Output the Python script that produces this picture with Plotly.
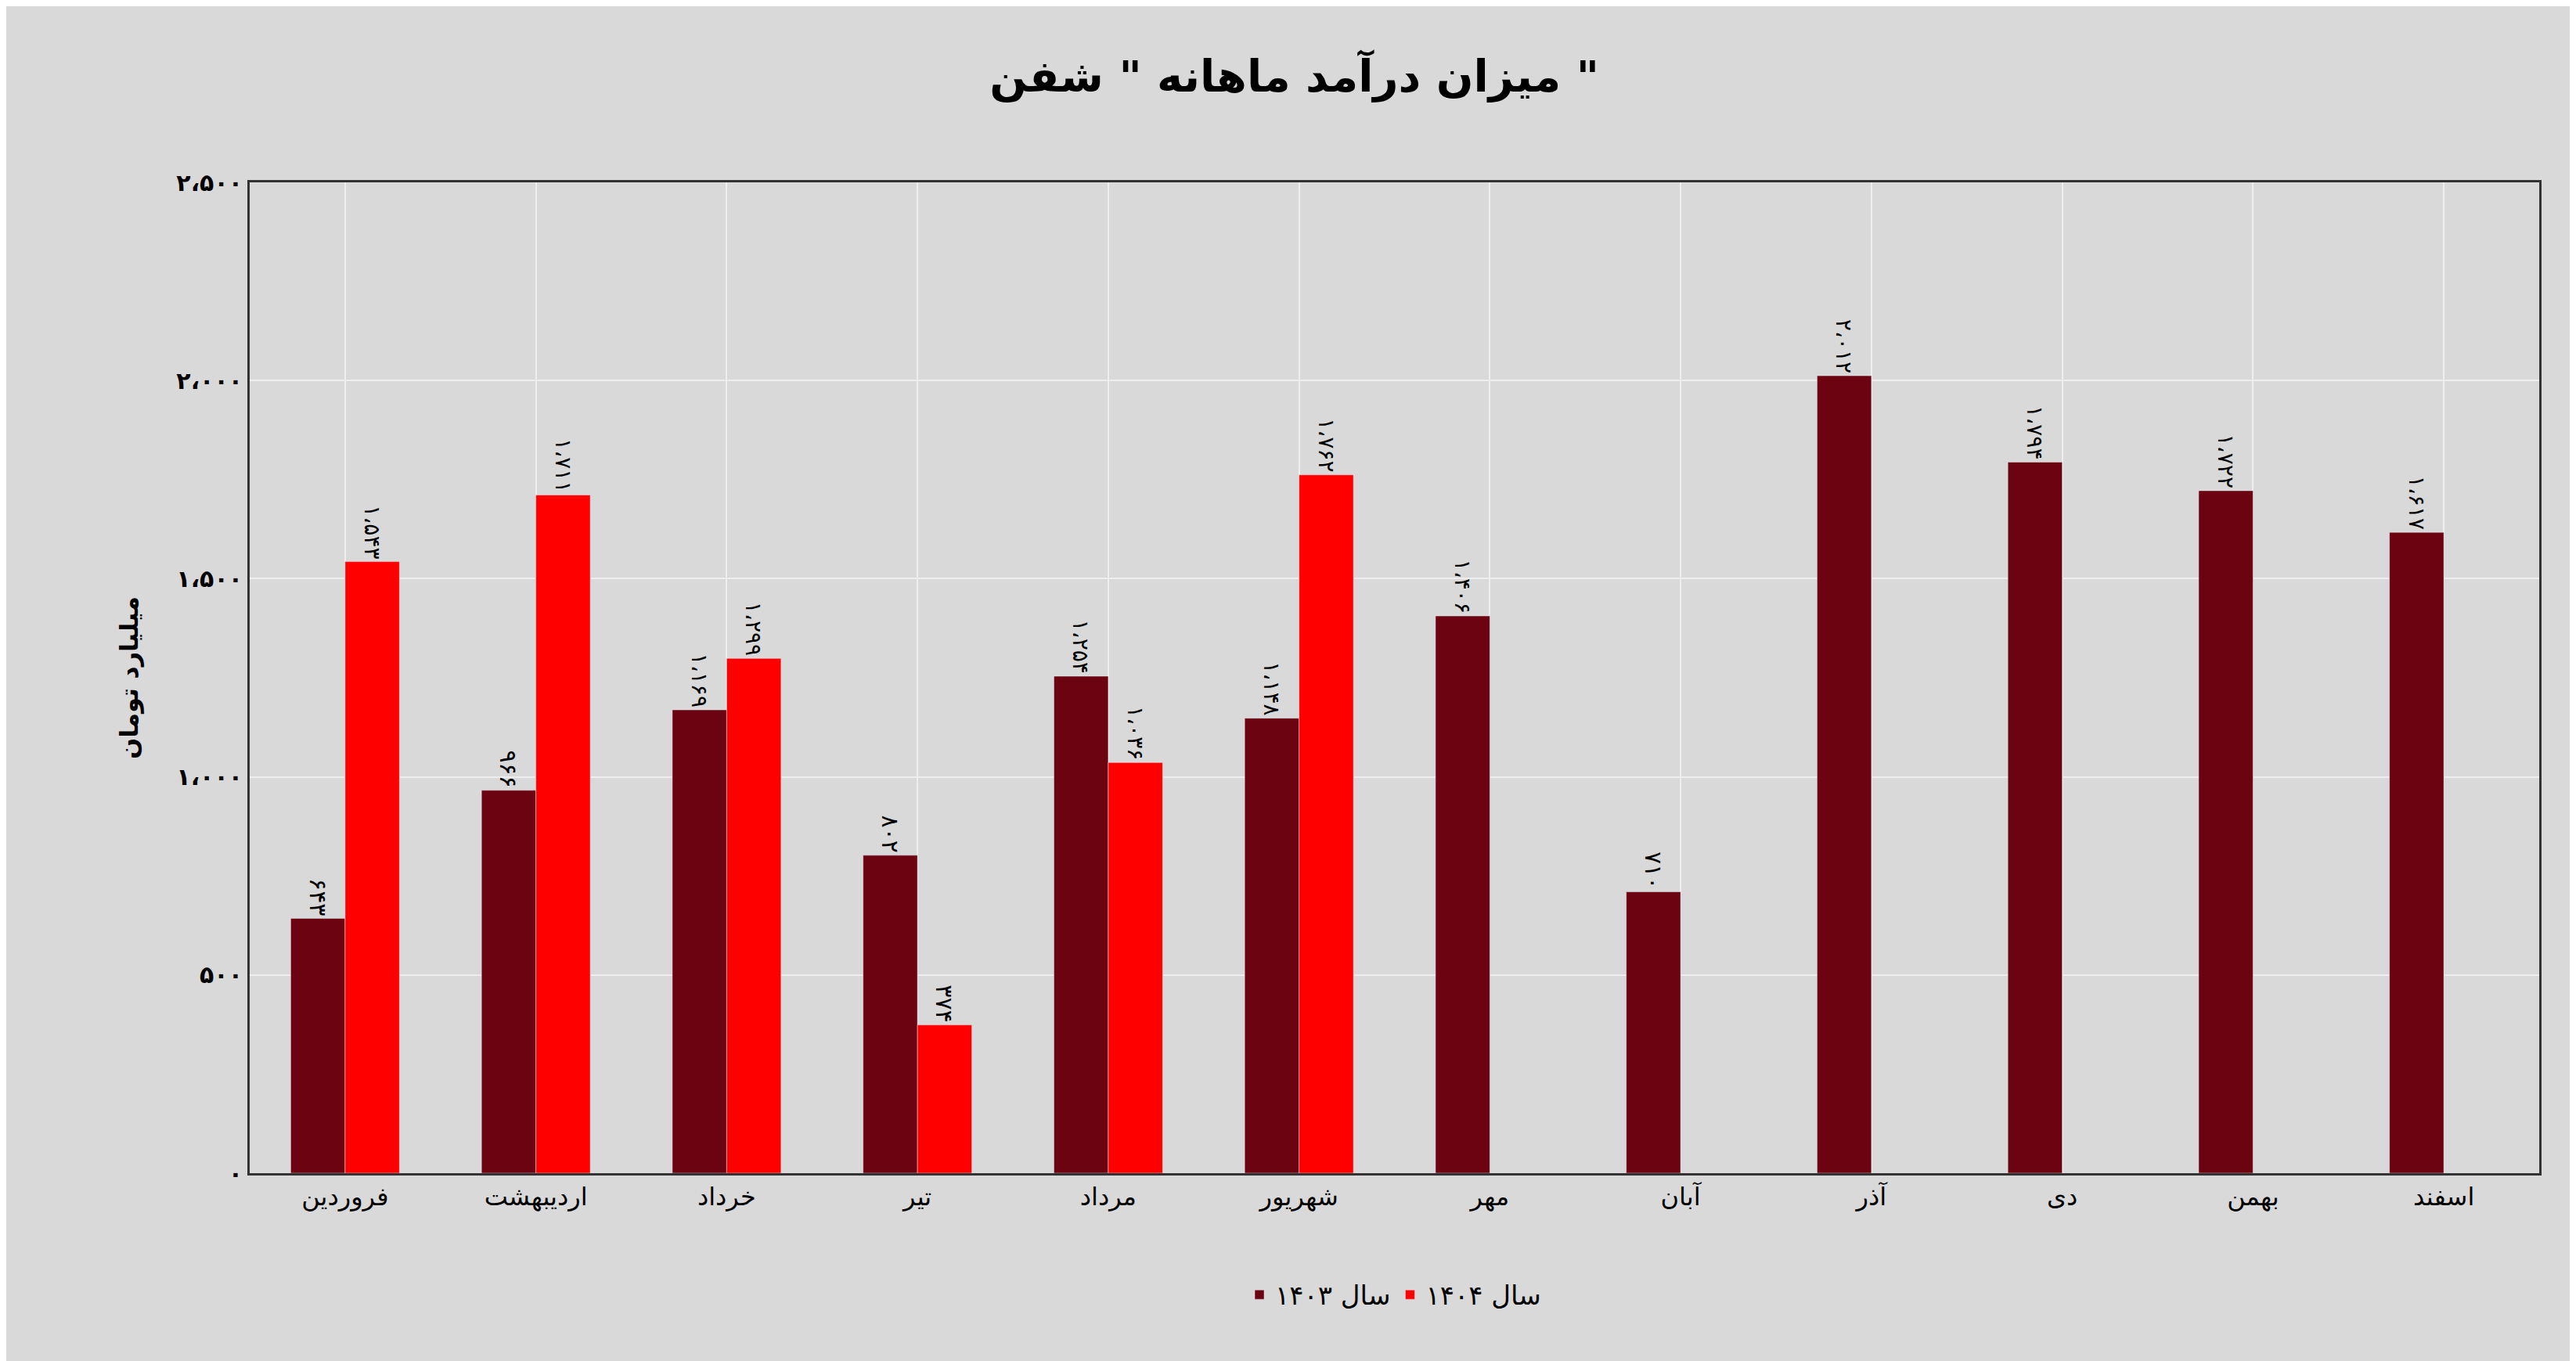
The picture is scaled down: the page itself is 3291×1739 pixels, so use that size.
import plotly.graph_objects as go

months = ["فروردین","اردیبهشت","خرداد","تیر","مرداد","شهریور","مهر","آبان","آذر","دی","بهمن","اسفند"]
v1403 = [643, 966, 1169, 802, 1254, 1148, 1406, 710, 2012, 1794, 1722, 1617]
v1404 = [1543, 1711, 1299, 374, 1036, 1762]
yticks = [0, 500, 1000, 1500, 2000, 2500]

def fa(n):
    s = f"{n:,}".replace(",", "،")
    return s.translate(str.maketrans("0123456789", "۰۱۲۳۴۵۶۷۸۹"))

font = "DejaVu Sans"
fig = go.Figure()
fig.add_bar(x=months, y=v1403, name="سال ۱۴۰۳", marker_color="#6b0410",
            text=[fa(v) for v in v1403], textposition="outside", textangle=90,
            textfont=dict(size=30, color="black", family=font), cliponaxis=False)
fig.add_bar(x=months[:len(v1404)], y=v1404, name="سال ۱۴۰۴", marker_color="#ff0000",
            text=[fa(v) for v in v1404], textposition="outside", textangle=90,
            textfont=dict(size=30, color="black", family=font), cliponaxis=False)
fig.update_layout(
    width=3291, height=1739, paper_bgcolor="#d9d9d9", plot_bgcolor="#d9d9d9",
    barmode="group", bargap=0.43, bargroupgap=0,
    font=dict(family=font, color="black", size=30),
    title=dict(text="<b>میزان درآمد ماهانه \" شفن \"</b>", x=0.5, xanchor="center", y=0.96,
               font=dict(size=56)),
    margin=dict(l=311, r=55, t=225, b=248),
    xaxis=dict(showgrid=True, gridcolor="#eeeeee", gridwidth=2, tickfont=dict(size=32),
               showline=True, linecolor="#333", linewidth=3, mirror=True, ticks=""),
    yaxis=dict(range=[0, 2500], tickvals=yticks, ticktext=[f"<b>{fa(t)}</b>" for t in yticks],
               gridcolor="#eeeeee", gridwidth=2, showline=True, linecolor="#333", linewidth=3,
               mirror=True, zeroline=False,
               title=dict(text="<b>میلیارد تومان</b>", font=dict(size=32), standoff=40)),
    legend=dict(orientation="h", x=0.5, xanchor="center", y=-0.1, yanchor="top",
                font=dict(size=34), traceorder="normal"),
)
fig.write_html("out.html")
